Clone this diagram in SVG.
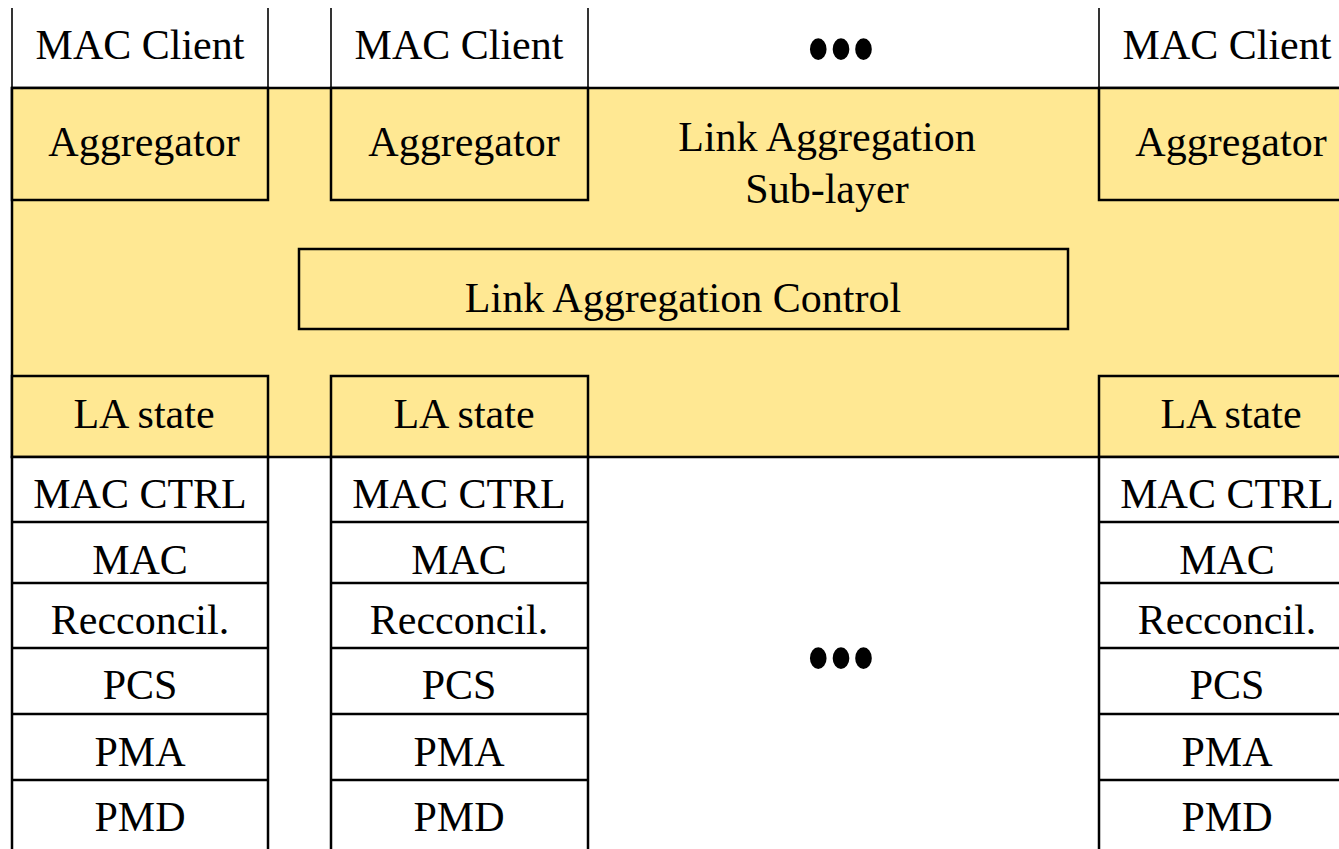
<svg xmlns="http://www.w3.org/2000/svg" width="1339" height="849" viewBox="0 0 1339 849">
<style>
text{font-family:"Liberation Serif","Times New Roman",serif;font-size:42px;fill:#000;text-anchor:middle}
.box{fill:none;stroke:#000;stroke-width:2.5}
.yb{fill:#FFE893;stroke:#000;stroke-width:2.5}
.wb{fill:#fff;stroke:#000;stroke-width:2.5}
.thin{stroke:#000;stroke-width:1.6;fill:none}
.dots{font-size:70px;letter-spacing:-1.9px}
</style>
<rect width="1339" height="849" fill="#fff"/>
<g id="sublayer">
<rect class="yb" x="12" y="88" width="1345" height="369"/>
<text x="827" y="151">Link Aggregation</text>
<text x="827" y="203">Sub-layer</text>
</g>
<g id="client-lines">
<line class="thin" x1="12" y1="8" x2="12" y2="88"/>
<line class="thin" x1="268" y1="8" x2="268" y2="88"/>
<line class="thin" x1="331" y1="8" x2="331" y2="88"/>
<line class="thin" x1="588" y1="8" x2="588" y2="88"/>
<line class="thin" x1="1099" y1="8" x2="1099" y2="88"/>
</g>
<g id="client1"><text x="140" y="59">MAC Client</text></g>
<g id="client2"><text x="459" y="59">MAC Client</text></g>
<g id="client3"><text x="1227" y="59">MAC Client</text></g>
<g id="dots-top"><text class="dots" x="840" y="72" transform="translate(840 47) scale(1 1.3) translate(-840 -47)">•••</text></g>
<g id="agg1"><rect class="yb" x="12" y="88" width="256" height="112"/><text x="144" y="156">Aggregator</text></g>
<g id="agg2"><rect class="yb" x="331" y="88" width="257" height="112"/><text x="464" y="156">Aggregator</text></g>
<g id="agg3"><rect class="yb" x="1099" y="88" width="258" height="112"/><text x="1231" y="156">Aggregator</text></g>
<g id="lacontrol"><rect class="yb" x="299" y="249" width="769" height="80"/><text x="683" y="312">Link Aggregation Control</text></g>
<g id="la1"><rect class="yb" x="12" y="376" width="256" height="81"/><text x="144" y="428">LA state</text></g>
<g id="la2"><rect class="yb" x="331" y="376" width="257" height="81"/><text x="464" y="428">LA state</text></g>
<g id="la3"><rect class="yb" x="1099" y="376" width="258" height="81"/><text x="1231" y="428">LA state</text></g>
<g id="stack1">
<rect class="wb" x="12" y="457" width="256" height="400"/>
<line class="box" x1="12" y1="522" x2="268" y2="522"/>
<line class="box" x1="12" y1="583" x2="268" y2="583"/>
<line class="box" x1="12" y1="648" x2="268" y2="648"/>
<line class="box" x1="12" y1="714" x2="268" y2="714"/>
<line class="box" x1="12" y1="780" x2="268" y2="780"/>
<text x="140" y="508">MAC CTRL</text>
<text x="140" y="574">MAC</text>
<text x="140" y="634">Recconcil.</text>
<text x="140" y="699">PCS</text>
<text x="140" y="766">PMA</text>
<text x="140" y="831">PMD</text>
</g>
<g id="stack2">
<rect class="wb" x="331" y="457" width="257" height="400"/>
<line class="box" x1="331" y1="522" x2="588" y2="522"/>
<line class="box" x1="331" y1="583" x2="588" y2="583"/>
<line class="box" x1="331" y1="648" x2="588" y2="648"/>
<line class="box" x1="331" y1="714" x2="588" y2="714"/>
<line class="box" x1="331" y1="780" x2="588" y2="780"/>
<text x="459" y="508">MAC CTRL</text>
<text x="459" y="574">MAC</text>
<text x="459" y="634">Recconcil.</text>
<text x="459" y="699">PCS</text>
<text x="459" y="766">PMA</text>
<text x="459" y="831">PMD</text>
</g>
<g id="stack3">
<rect class="wb" x="1099" y="457" width="258" height="400"/>
<line class="box" x1="1099" y1="522" x2="1357" y2="522"/>
<line class="box" x1="1099" y1="583" x2="1357" y2="583"/>
<line class="box" x1="1099" y1="648" x2="1357" y2="648"/>
<line class="box" x1="1099" y1="714" x2="1357" y2="714"/>
<line class="box" x1="1099" y1="780" x2="1357" y2="780"/>
<text x="1227" y="508">MAC CTRL</text>
<text x="1227" y="574">MAC</text>
<text x="1227" y="634">Recconcil.</text>
<text x="1227" y="699">PCS</text>
<text x="1227" y="766">PMA</text>
<text x="1227" y="831">PMD</text>
</g>
<g id="dots-bottom"><text class="dots" x="840" y="680.5" transform="translate(840 655.5) scale(1 1.3) translate(-840 -655.5)">•••</text></g>
<g id="connectors"></g>
</svg>
